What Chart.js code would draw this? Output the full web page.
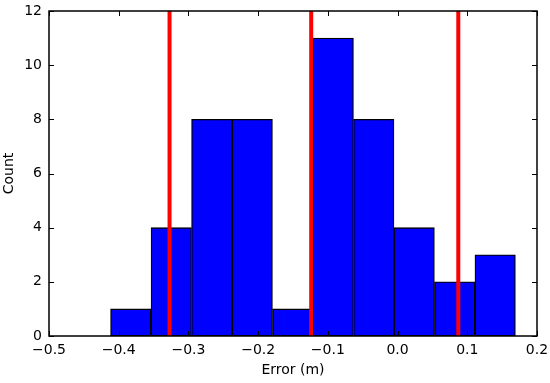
<!DOCTYPE html>
<html>
<head>
<meta charset="utf-8">
<script src="https://cdn.jsdelivr.net/npm/chart.js@4/dist/chart.umd.min.js"></script>
<style>
  html, body { margin: 0; padding: 0; background: #fff; }
  #wrap { width: 550px; height: 383px; }
</style>
</head>
<body>
<div id="wrap"><canvas id="histChart"></canvas></div>
<script>
// histogram bins (centres, width ~0.058) and counts
const binCenters = [-0.3827, -0.3246, -0.2665, -0.2085, -0.1504, -0.0923, -0.0342, 0.0238, 0.0819, 0.1400];
const counts = [1, 4, 8, 8, 1, 11, 8, 4, 2, 3];
// red reference lines
const markerLines = [-0.3271, -0.1239, 0.0871];
const xTicks = [-0.5, -0.4, -0.3, -0.2, -0.1, 0.0, 0.1, 0.2];
const yTicks = [0, 2, 4, 6, 8, 10, 12];

const fontFamily = "'DejaVu Sans', sans-serif";

function fmt(v) {
    if (Math.abs(v) < 1e-9) v = 0;
    return v.toFixed(1).replace('-', '\u2212');
}

// frame + inward tick marks on all four sides (matplotlib classic look)
const framePlugin = {
    id: 'frame',
    afterDatasetsDraw(chart) {
        const { ctx, chartArea: a, scales } = chart;
        ctx.save();
        ctx.strokeStyle = '#000';
        ctx.lineWidth = 1;
        ctx.beginPath();
        xTicks.forEach(v => {
            const px = Math.round(scales.x.getPixelForValue(v)) + 0.5;
            ctx.moveTo(px, a.bottom); ctx.lineTo(px, a.bottom - 5);
            ctx.moveTo(px, a.top); ctx.lineTo(px, a.top + 5);
        });
        yTicks.forEach(v => {
            const py = Math.round(scales.y.getPixelForValue(v)) + 0.5;
            ctx.moveTo(a.left, py); ctx.lineTo(a.left + 5, py);
            ctx.moveTo(a.right, py); ctx.lineTo(a.right - 5, py);
        });
        ctx.stroke();
        ctx.lineWidth = 1.5;
        ctx.strokeRect(a.left, a.top, a.right - a.left, a.bottom - a.top);
        ctx.restore();
    }
};

const datasets = [{
    type: 'bar',
    data: binCenters.map((x, i) => ({ x: x, y: counts[i] })),
    backgroundColor: '#0000ff',
    borderColor: '#000000',
    borderWidth: 1.3,
    borderSkipped: false,
    barPercentage: 1,
    categoryPercentage: 1,
    order: 2
}];
markerLines.forEach(x => {
    datasets.push({
        type: 'line',
        data: [{ x: x, y: 0 }, { x: x, y: 12 }],
        borderColor: '#ff0000',
        borderWidth: 4,
        pointRadius: 0,
        fill: false,
        order: 1
    });
});

const ctx = document.getElementById('histChart').getContext('2d');
const histChart = new Chart(ctx, {
    data: { datasets: datasets },
    options: {
        responsive: true,
        maintainAspectRatio: false,
        animation: false,
        layout: { padding: { top: 11, right: 13, left: 0, bottom: 0 } },
        plugins: { legend: { display: false }, tooltip: { enabled: false } },
        scales: {
            x: {
                type: 'linear',
                min: -0.5,
                max: 0.2,
                offset: false,
                afterFit: s => { s.height = 47; s.paddingLeft = 0; s.paddingRight = 0; },
                afterBuildTicks: s => { s.ticks = xTicks.map(v => ({ value: v })); },
                grid: { display: false, drawTicks: false },
                border: { display: false },
                ticks: {
                    padding: 6,
                    color: '#000',
                    font: { family: fontFamily, size: 14 },
                    maxRotation: 0,
                    callback: v => fmt(v)
                },
                title: {
                    display: true,
                    text: 'Error (m)',
                    color: '#000',
                    font: { family: fontFamily, size: 14 },
                    padding: { top: 0, bottom: 4 }
                }
            },
            y: {
                min: 0,
                max: 12,
                afterFit: s => { s.width = 49; s.paddingTop = 0; s.paddingBottom = 0; },
                afterBuildTicks: s => { s.ticks = yTicks.map(v => ({ value: v })); },
                grid: { display: false, drawTicks: false },
                border: { display: false },
                ticks: {
                    padding: 7,
                    color: '#000',
                    font: { family: fontFamily, size: 14 },
                    callback: v => String(v)
                },
                title: {
                    display: true,
                    text: 'Count',
                    color: '#000',
                    font: { family: fontFamily, size: 14 },
                    padding: { top: 1, bottom: 0 }
                }
            }
        }
    },
    plugins: [framePlugin]
});
</script>
</body>
</html>
